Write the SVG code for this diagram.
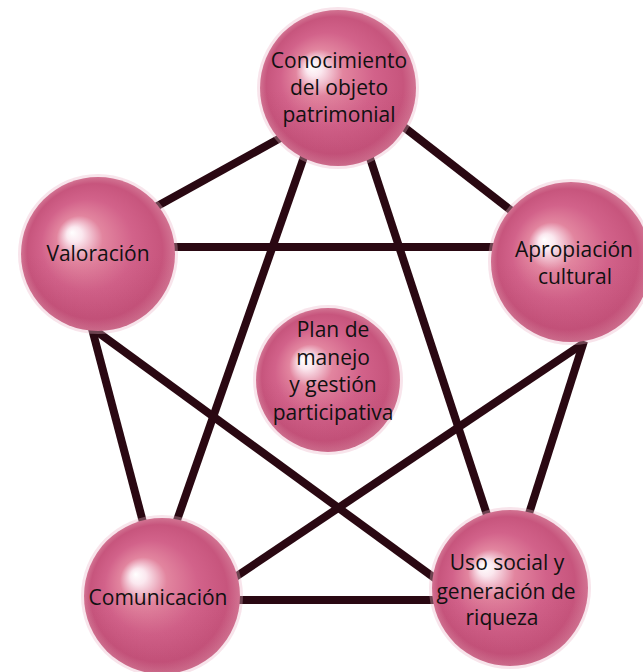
<svg xmlns="http://www.w3.org/2000/svg" width="643" height="672" viewBox="0 0 643 672">
<style>
.edge{stroke:#2a0812;stroke-width:8;stroke-linecap:butt;fill:none}
.ball{fill:url(#sph)}
.shade{fill:url(#shd)}
.halo{fill:#eab3c5;opacity:0.35}
.lbl{font-family:"Open Sans","Noto Sans","DejaVu Sans",sans-serif;font-size:21px;fill:#111;text-anchor:middle}
</style>
<defs>
<radialGradient id="sph" cx="0.5" cy="0.5" r="0.5" fx="0.33" fy="0.36">
<stop offset="0" stop-color="#ffffff"/>
<stop offset="0.1" stop-color="#fbe8ef"/>
<stop offset="0.3" stop-color="#e2859f"/>
<stop offset="0.6" stop-color="#d2628a"/>
<stop offset="0.88" stop-color="#c7557d"/>
<stop offset="1" stop-color="#d27392"/>
</radialGradient>
<linearGradient id="shd" x1="0" y1="0" x2="0" y2="1">
<stop offset="0.5" stop-color="#8a1a42" stop-opacity="0"/>
<stop offset="1" stop-color="#8a1a42" stop-opacity="0.1"/>
</linearGradient>
</defs>
<rect width="643" height="672" fill="#ffffff"/>
<g id="connectors">
<line class="edge" x1="284" y1="136" x2="152" y2="209"/>
<line class="edge" x1="400" y1="124" x2="522" y2="219"/>
<line class="edge" x1="305" y1="154" x2="175" y2="526"/>
<line class="edge" x1="369" y1="155" x2="490" y2="524"/>
<line class="edge" x1="170" y1="247" x2="512" y2="247"/>
<line class="edge" x1="91" y1="325" x2="144" y2="526"/>
<line class="edge" x1="92" y1="328" x2="440" y2="582"/>
<line class="edge" x1="584" y1="343" x2="228" y2="582"/>
<line class="edge" x1="584" y1="341" x2="526" y2="523"/>
<line class="edge" x1="232" y1="600" x2="440" y2="600"/>
</g>
<g id="conocimiento">
<circle class="halo" cx="338" cy="88" r="81"/>
<circle class="ball" cx="338" cy="88" r="78"/>
<circle class="shade" cx="338" cy="88" r="78"/>
<text class="lbl" x="339" y="68">Conocimiento</text>
<text class="lbl" x="339" y="95">del objeto</text>
<text class="lbl" x="339" y="122">patrimonial</text>
</g>
<g id="valoracion">
<circle class="halo" cx="98" cy="254" r="80"/>
<circle class="ball" cx="98" cy="254" r="77"/>
<circle class="shade" cx="98" cy="254" r="77"/>
<text class="lbl" x="98" y="261">Valoración</text>
</g>
<g id="apropiacion">
<circle class="halo" cx="571" cy="262" r="83"/>
<circle class="ball" cx="571" cy="262" r="80"/>
<circle class="shade" cx="571" cy="262" r="80"/>
<text class="lbl" x="574" y="257">Apropiación</text>
<text class="lbl" x="575" y="284">cultural</text>
</g>
<g id="plan">
<circle class="halo" cx="328" cy="380" r="75"/>
<circle class="ball" cx="328" cy="380" r="72"/>
<circle class="shade" cx="328" cy="380" r="72"/>
<text class="lbl" x="333" y="337">Plan de</text>
<text class="lbl" x="333" y="365">manejo</text>
<text class="lbl" x="333" y="392">y gestión</text>
<text class="lbl" x="333" y="420">participativa</text>
</g>
<g id="comunicacion">
<circle class="halo" cx="162" cy="596" r="81"/>
<circle class="ball" cx="162" cy="596" r="78"/>
<circle class="shade" cx="162" cy="596" r="78"/>
<text class="lbl" x="158" y="605">Comunicación</text>
</g>
<g id="uso">
<circle class="halo" cx="510" cy="588" r="81"/>
<circle class="ball" cx="510" cy="588" r="78"/>
<circle class="shade" cx="510" cy="588" r="78"/>
<text class="lbl" x="507" y="570">Uso social y</text>
<text class="lbl" x="506" y="599">generación de</text>
<text class="lbl" x="502" y="625">riqueza</text>
</g>
</svg>
